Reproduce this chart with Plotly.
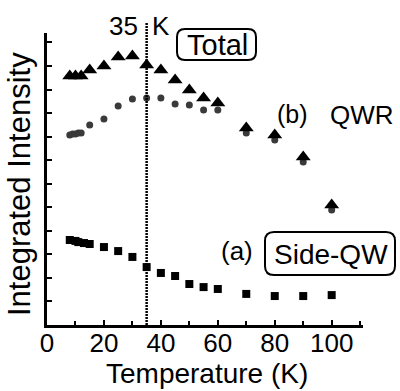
import plotly.graph_objects as go

# ---- data (y in axis-tick units) ----
temp_total = [8, 10, 12, 15, 20, 25, 30, 35, 40, 45, 50, 55, 60, 70, 80, 90, 100]
total = [10.57, 10.57, 10.57, 10.83, 11.00, 11.38, 11.42, 11.04, 10.83, 10.40,
         9.98, 9.64, 9.43, 8.37, 8.07, 7.13, 5.10]

temp_qwr = [8, 9, 10, 11, 12, 15, 20, 25, 30, 35, 40, 45, 50, 55, 60, 70, 80, 90, 100]
qwr = [8.07, 8.11, 8.11, 8.15, 8.15, 8.49, 8.75, 9.30, 9.60, 9.64, 9.64, 9.38,
       9.34, 9.13, 9.13, 8.15, 7.86, 6.92, 4.88]

temp_side = [8, 10, 11, 13, 15, 20, 25, 30, 35, 40, 45, 50, 55, 60, 70, 80, 90, 100]
side_qw = [3.61, 3.57, 3.52, 3.48, 3.44, 3.31, 3.14, 2.89, 2.46, 2.21, 2.08, 1.74,
           1.61, 1.53, 1.32, 1.23, 1.23, 1.27]

x_ticks = [0, 20, 40, 60, 80, 100]
marker_temp = 35

# ---- layout geometry (pixels) ----
W, H = 400, 391
L, R, T, B = 47, 37, 33, 66
PW, PH = W - L - R, H - T - B
FONT = "Liberation Sans, Arial, sans-serif"


def px(xp):
    return (xp - L) / PW


def py(yp):
    return (H - B - yp) / PH


def rounded_box(x0, y0, x1, y1, r):
    pts = [
        ("M", (x0 + r, y0)), ("L", (x1 - r, y0)), ("Q", (x1, y0), (x1, y0 + r)),
        ("L", (x1, y1 - r)), ("Q", (x1, y1), (x1 - r, y1)), ("L", (x0 + r, y1)),
        ("Q", (x0, y1), (x0, y1 - r)), ("L", (x0, y0 + r)), ("Q", (x0, y0), (x0 + r, y0)),
    ]
    s = ""
    for p in pts:
        cmd = p[0]
        coords = " ".join(f"{px(a):.5f},{py(b):.5f}" for a, b in p[1:])
        s += f"{cmd} {coords} "
    return s + "Z"


fig = go.Figure()
fig.add_trace(go.Scatter(x=temp_side, y=side_qw, mode="markers",
                         marker=dict(symbol="square", size=8, color="black"),
                         showlegend=False))
fig.add_trace(go.Scatter(x=temp_qwr, y=qwr, mode="markers",
                         marker=dict(symbol="circle", size=7, color="#3a3a3a"),
                         showlegend=False))
fig.add_trace(go.Scatter(x=temp_total, y=total, mode="markers",
                         marker=dict(symbol="triangle-up", size=13, color="black"),
                         showlegend=False))

fig.add_shape(type="line", xref="x", yref="paper", x0=marker_temp, x1=marker_temp,
              y0=0, y1=py(22), line=dict(color="black", width=2.5, dash="2px,1px"))
fig.add_shape(type="path", xref="paper", yref="paper",
              path=rounded_box(177, 29, 256, 60, 8), line=dict(color="black", width=2))
fig.add_shape(type="path", xref="paper", yref="paper",
              path=rounded_box(265, 232, 395, 275, 9), line=dict(color="black", width=2))


def ann(text, xp, yp, size=26, angle=0):
    fig.add_annotation(text=text, xref="paper", yref="paper", x=px(xp), y=py(yp),
                       showarrow=False, xanchor="center", yanchor="middle",
                       textangle=angle, font=dict(family=FONT, size=size, color="black"))


ann("35", 123, 26)
ann("K", 161, 26)
ann("Total", 217, 45, 29)
ann("(b)", 292, 114, 25)
ann("QWR", 362, 115, 26)
ann("(a)", 237, 251, 26)
ann("Side-QW", 331, 254, 28)
ann("Temperature (K)", 207, 373, 28)
ann("Integrated Intensity", 19, 184, 31, -90)

fig.update_xaxes(range=[0, 111], tickvals=x_ticks, ticks="inside", ticklen=5,
                 tickwidth=2, tickcolor="black", showline=True, linecolor="black",
                 linewidth=2.5, showgrid=False, zeroline=False,
                 minor=dict(dtick=10, tick0=0, ticks="inside", ticklen=4,
                            tickwidth=2, tickcolor="black", showgrid=False),
                 tickfont=dict(family=FONT, size=26, color="black"),
                 ticklabelstandoff=-7)
fig.update_yaxes(range=[0, 12.4], dtick=1, tick0=0, ticks="inside", ticklen=5,
                 tickwidth=2, tickcolor="black", showline=True, linecolor="black",
                 linewidth=2.5, showgrid=False, zeroline=False, showticklabels=False)

fig.update_layout(width=W, height=H, margin=dict(l=L, r=R, t=T, b=B),
                  plot_bgcolor="white", paper_bgcolor="white")

fig.write_html("out.html", config={"displayModeBar": False},
               post_script="document.body.style.margin='0';document.body.style.overflow='hidden';")
